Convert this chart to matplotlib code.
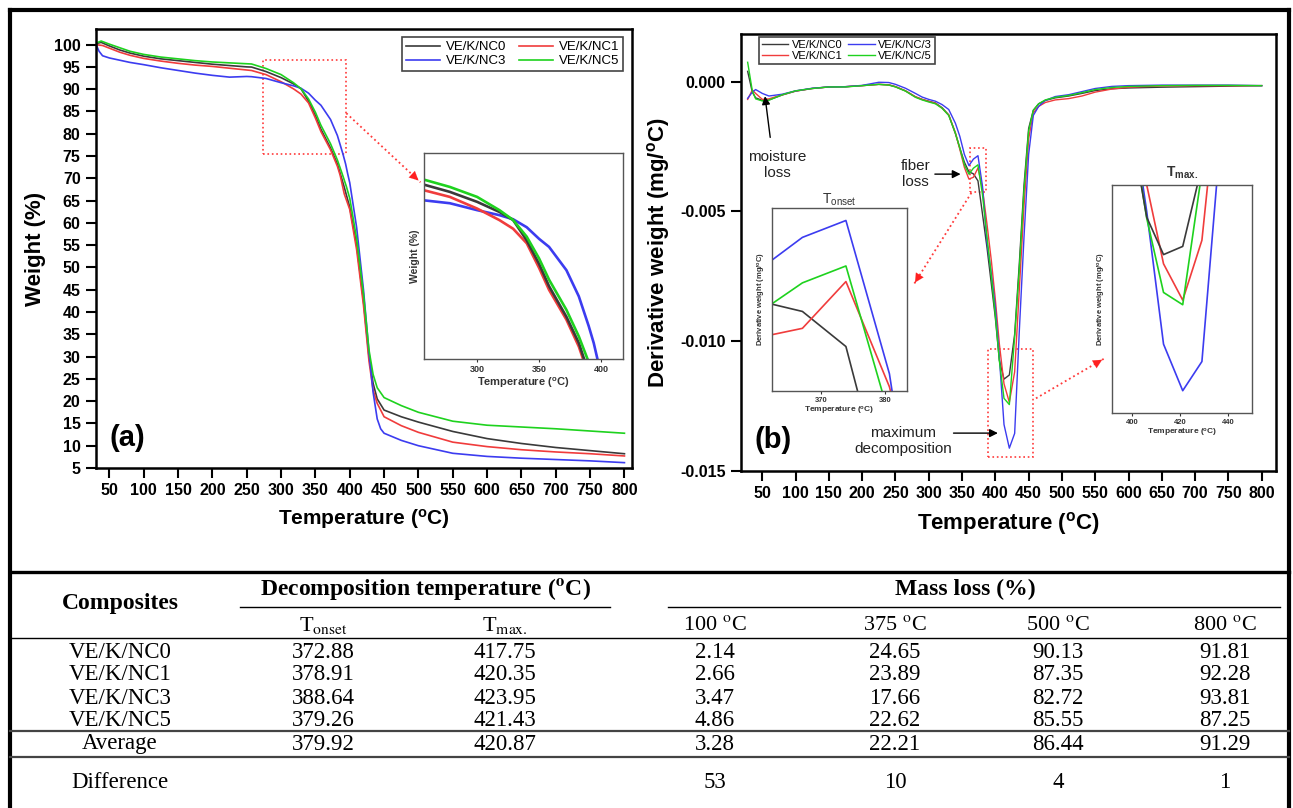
import matplotlib
matplotlib.use("Agg")
import matplotlib.pyplot as plt
from matplotlib.patches import Rectangle
from matplotlib.lines import Line2D

plt.rcParams['font.family'] = ['Liberation Sans', 'DejaVu Sans']
plt.rcParams['mathtext.fontset'] = 'custom'
plt.rcParams['mathtext.rm'] = 'Liberation Sans'
plt.rcParams['mathtext.it'] = 'Liberation Sans:italic'
plt.rcParams['mathtext.bf'] = 'Liberation Sans:bold'
plt.rcParams['axes.unicode_minus'] = False

# ---- TGA curves (weight %, panel a) ----
tga_T_nc0 = [30, 38, 50, 65, 80, 100, 125, 150, 175, 200, 225, 250, 257, 278, 300, 318, 329, 340, 350, 358,
             372, 382, 392, 400, 410, 420, 428, 434, 440, 450, 475, 500, 550, 600, 650, 700, 750, 800]
tga_W_nc0 = [100.2, 100.5, 99.7, 98.8, 98.1, 97.4, 96.8, 96.4, 96.0, 95.6, 95.3, 95.0, 94.96, 93.96, 92.59, 91.2, 90.1, 87.3, 84.05, 81.0,
             76.8, 73.2, 68.0, 63.5, 55.0, 42.5, 30.0, 24.0, 20.5, 18.0, 16.5, 15.3, 13.2, 11.6, 10.5, 9.6, 8.9, 8.2]

tga_T_nc1 = [30, 40, 50, 65, 80, 100, 125, 150, 175, 200, 225, 250, 257, 278, 300, 318, 329, 340, 350, 358,
             372, 382, 386, 392, 400, 410, 420, 428, 434, 440, 450, 475, 500, 550, 600, 650, 700, 750, 800]
tga_W_nc1 = [100.0, 99.8, 99.2, 98.3, 97.6, 96.9, 96.3, 95.8, 95.4, 95.1, 94.7, 94.3, 94.19, 93.27, 91.67, 90.08, 88.9, 86.9, 83.5, 80.5,
             76.4, 72.7, 70.7, 66.5, 63.0, 54.0, 41.5, 29.0, 22.5, 19.5, 16.5, 14.5, 13.0, 10.8, 9.8, 9.1, 8.6, 8.2, 7.7]

tga_T_nc3 = [30, 35, 40, 50, 65, 80, 100, 125, 150, 175, 200, 225, 250, 257, 278, 300, 318, 329, 340, 350, 358,
             372, 382, 390, 394, 397, 400, 410, 420, 428, 434, 440, 445, 450, 475, 500, 550, 600, 650, 700, 750, 800]
tga_W_nc3 = [100.2, 98.5, 97.5, 97.0, 96.5, 96.0, 95.5, 94.8, 94.2, 93.6, 93.1, 92.7, 92.85, 92.8, 92.4, 91.45, 90.76, 90.2, 89.1, 87.5, 86.4,
             83.2, 79.6, 75.5, 73.2, 71.0, 69.0, 59.0, 45.0, 31.0, 22.0, 16.0, 13.8, 12.8, 11.2, 10.0, 8.3, 7.6, 7.2, 6.9, 6.6, 6.2]

tga_T_nc5 = [30, 38, 50, 65, 80, 100, 125, 150, 175, 200, 225, 250, 257, 278, 300, 318, 329, 340, 350, 358,
             372, 382, 389, 395, 400, 410, 420, 428, 434, 440, 450, 475, 500, 550, 600, 650, 700, 750, 800]
tga_W_nc5 = [100.3, 100.8, 100.1, 99.3, 98.5, 97.8, 97.2, 96.8, 96.4, 96.1, 95.9, 95.7, 95.65, 94.64, 93.27, 91.45, 90.1, 87.8, 84.8, 81.9,
             77.75, 74.1, 71.0, 68.2, 65.5, 56.5, 44.0, 31.5, 26.0, 23.0, 20.8, 19.0, 17.5, 15.5, 14.6, 14.2, 13.8, 13.3, 12.8]

# ---- DTG curves (mg/oC, panel b) ----
dtg_T = [28, 35, 40, 50, 60, 80, 100, 125, 150, 175, 200, 225, 240, 250, 265, 280, 290, 300, 310, 320,
         330, 340, 346.6, 353.5, 360.3, 367.1, 373.9, 380.7, 387.5, 394, 400, 406, 413, 421, 429, 436, 443, 450, 457, 465,
         475, 490, 510, 530, 550, 575, 600, 650, 700, 750, 800]
dtg_nc0 = [0.00040, -0.00040, -0.00062, -0.00072, -0.00070, -0.00051, -0.00036, -0.00026, -0.00020, -0.00019,
           -0.00015, -0.00010, -0.00012, -0.00019, -0.00035, -0.00058, -0.00068, -0.00075, -0.00082, -0.00100,
           -0.00128, -0.00200, -0.00255, -0.00310, -0.00347, -0.00355, -0.00382, -0.00510, -0.00640, -0.00780,
           -0.00910, -0.01073, -0.01146, -0.01130, -0.00973, -0.00700, -0.00400, -0.00180, -0.00110, -0.00085,
           -0.00072, -0.00062, -0.00055, -0.00045, -0.00034, -0.00027, -0.00024, -0.00021, -0.00019, -0.00017,
           -0.00015]
dtg_nc1 = [-0.00068, -0.00032, -0.00045, -0.00068, -0.00066, -0.00050, -0.00036, -0.00026, -0.00020, -0.00019,
           -0.00015, -0.00010, -0.00012, -0.00019, -0.00035, -0.00058, -0.00068, -0.00076, -0.00083, -0.00102,
           -0.00128, -0.00196, -0.00260, -0.00330, -0.00375, -0.00368, -0.00332, -0.00413, -0.00550, -0.00690,
           -0.00840, -0.01010, -0.01164, -0.01235, -0.01118, -0.00800, -0.00480, -0.00220, -0.00120, -0.00095,
           -0.00080, -0.00070, -0.00065, -0.00055, -0.00040, -0.00028, -0.00021, -0.00016, -0.00015, -0.00015,
           -0.00015]
dtg_nc3 = [-0.00064, -0.00040, -0.00030, -0.00045, -0.00055, -0.00048, -0.00035, -0.00025, -0.00020, -0.00019,
           -0.00014, -0.00002, -0.00003, -0.00010, -0.00025, -0.00045, -0.00059, -0.00068, -0.00075, -0.00088,
           -0.00107, -0.00160, -0.00210, -0.00280, -0.00323, -0.00298, -0.00285, -0.00403, -0.00620, -0.00740,
           -0.00870, -0.01062, -0.01321, -0.01412, -0.01355, -0.00960, -0.00600, -0.00280, -0.00130, -0.00095,
           -0.00072, -0.00057, -0.00050, -0.00038, -0.00026, -0.00018, -0.00015, -0.00013, -0.00013, -0.00013,
           -0.00015]
dtg_nc5 = [0.00075, -0.00035, -0.00066, -0.00074, -0.00071, -0.00050, -0.00035, -0.00026, -0.00020, -0.00020,
           -0.00015, -0.00010, -0.00013, -0.00020, -0.00036, -0.00060, -0.00070, -0.00078, -0.00085, -0.00102,
           -0.00130, -0.00198, -0.00255, -0.00320, -0.00356, -0.00333, -0.00320, -0.00436, -0.00600, -0.00750,
           -0.00900, -0.01075, -0.01220, -0.01244, -0.00984, -0.00720, -0.00420, -0.00190, -0.00110, -0.00085,
           -0.00070, -0.00060, -0.00053, -0.00042, -0.00030, -0.00022, -0.00018, -0.00015, -0.00014, -0.00014,
           -0.00015]

# ---- summary table ----
composites = ['VE/K/NC0', 'VE/K/NC1', 'VE/K/NC3', 'VE/K/NC5']
t_onset = [372.88, 378.91, 388.64, 379.26]
t_max = [417.75, 420.35, 423.95, 421.43]
loss_100 = [2.14, 2.66, 3.47, 4.86]
loss_375 = [24.65, 23.89, 17.66, 22.62]
loss_500 = [90.13, 87.35, 82.72, 85.55]
loss_800 = [91.81, 92.28, 93.81, 87.25]
average_row = ['379.92', '420.87', '3.28', '22.21', '86.44', '91.29']
difference_row = ['', '', '53', '10', '4', '1']

c_nc0, c_nc1, c_nc3, c_nc5 = '#3a3a3a', '#f03c3c', '#3c3cf0', '#1ed21e'

W_PX, H_PX = 1293, 808
fig = plt.figure(figsize=(W_PX / 100, H_PX / 100), dpi=100)


def fx(px):
    return px / W_PX


def fy(py):
    return 1 - py / H_PX


def px_box(l, t, r, b):
    return [fx(l), fy(b), (r - l) / W_PX, (b - t) / H_PX]


def style_main(ax):
    for s in ax.spines.values():
        s.set_linewidth(1.8)
    ax.tick_params(direction='out', length=7, width=1.5, labelsize=11.5, pad=4)


def style_inset(ax, fs=6):
    for s in ax.spines.values():
        s.set_linewidth(1.0)
        s.set_color('#555555')
    ax.tick_params(direction='out', length=2.5, width=0.8, labelsize=fs, pad=2, colors='#333333')


red_dot = dict(color='#ff3a3a', ls=':', lw=1.3)


def dotted_arrow(ax, start, end):
    ax.plot([start[0], end[0]], [start[1], end[1]], **red_dot, clip_on=False)
    back = (end[0] - 0.12 * (end[0] - start[0]), end[1] - 0.12 * (end[1] - start[1]))
    ax.annotate('', xy=end, xytext=back, annotation_clip=False,
                arrowprops=dict(arrowstyle='-|>', color='#ff2020', lw=0.1, mutation_scale=16))


# ================= panel (a) =================
ax1 = fig.add_axes(px_box(96, 29, 632, 468))
h0, = ax1.plot(tga_T_nc0, tga_W_nc0, color=c_nc0, lw=1.2, label='VE/K/NC0')
h1, = ax1.plot(tga_T_nc1, tga_W_nc1, color=c_nc1, lw=1.2, label='VE/K/NC1')
h3, = ax1.plot(tga_T_nc3, tga_W_nc3, color=c_nc3, lw=1.2, label='VE/K/NC3')
h5, = ax1.plot(tga_T_nc5, tga_W_nc5, color=c_nc5, lw=1.2, label='VE/K/NC5')
ax1.set_xlim(30.5, 811)
ax1.set_ylim(5, 103.5)
xt = list(range(50, 801, 50))
yt = list(range(5, 101, 5))
ax1.set_xticks(xt, labels=[str(v) for v in xt], fontweight='bold')
ax1.set_yticks(yt, labels=[str(v) for v in yt], fontweight='bold')
style_main(ax1)
ax1.set_xlabel(r'Temperature ($\mathbf{^{o}}$C)', fontsize=15, fontweight='bold', labelpad=6)
ax1.set_ylabel('Weight (%)', fontsize=16, fontweight='bold', labelpad=6)
leg = ax1.legend(handles=[h0, h3, h1, h5], ncol=2, loc='upper left',
                 bbox_to_anchor=(fx(402), fy(37)), bbox_transform=fig.transFigure,
                 fontsize=9.5, fancybox=False, edgecolor='#444444', framealpha=1,
                 handlelength=2.6, handletextpad=0.4, columnspacing=1.0,
                 borderpad=0.3, labelspacing=0.15, borderaxespad=0)
leg.get_frame().set_linewidth(1.2)
ax1.text(76, 11.8, '(a)', fontsize=21, fontweight='bold', ha='center', va='center')
ax1.add_patch(Rectangle((273, 75.4), 122, 21.2, fill=False, ec='#ff3a3a', ls=':', lw=1.2))
dotted_arrow(ax1, (395, 84.6), (503, 69.1))

ax1i = fig.add_axes(px_box(424, 153, 623, 359))
for T, Wt, c in [(tga_T_nc3, tga_W_nc3, c_nc3), (tga_T_nc1, tga_W_nc1, c_nc1),
                 (tga_T_nc0, tga_W_nc0, c_nc0), (tga_T_nc5, tga_W_nc5, c_nc5)]:
    ax1i.plot(T, Wt, color=c, lw=1.9)
ax1i.set_xlim(257.2, 417.6)
ax1i.set_ylim(71, 99.3)
ax1i.set_xticks([300, 350, 400], labels=['300', '350', '400'], fontweight='bold')
ax1i.set_yticks([])
style_inset(ax1i, fs=6.5)
ax1i.set_xlabel(r'Temperature ($\mathbf{^{o}}$C)', fontsize=8, fontweight='bold', labelpad=1, color='#333333')
ax1i.set_ylabel('Weight (%)', fontsize=7.5, fontweight='bold', labelpad=3, color='#333333')

# ================= panel (b) =================
ax2 = fig.add_axes(px_box(741, 34, 1276, 471))
g0, = ax2.plot(dtg_T, dtg_nc0, color=c_nc0, lw=1.0, label='VE/K/NC0')
g1, = ax2.plot(dtg_T, dtg_nc1, color=c_nc1, lw=1.0, label='VE/K/NC1')
g3, = ax2.plot(dtg_T, dtg_nc3, color=c_nc3, lw=1.0, label='VE/K/NC/3')
g5, = ax2.plot(dtg_T, dtg_nc5, color=c_nc5, lw=1.0, label='VE/K/NC/5')
ax2.set_xlim(18, 821.5)
ax2.set_ylim(-0.015, 0.00184)
yt2 = [0.0, -0.005, -0.010, -0.015]
ax2.set_xticks(xt, labels=[str(v) for v in xt], fontweight='bold')
ax2.set_yticks(yt2, labels=[f'{v:.3f}' for v in yt2], fontweight='bold')
style_main(ax2)
ax2.set_xlabel(r'Temperature ($\mathbf{^{o}}$C)', fontsize=16, fontweight='bold', labelpad=6)
ax2.set_ylabel(r'Derivative weight (mg/$\mathbf{^{o}}$C)', fontsize=16, fontweight='bold', labelpad=6)
leg2 = ax2.legend(handles=[g0, g1, g3, g5], ncol=2, loc='upper left',
                  bbox_to_anchor=(fx(759), fy(37)), bbox_transform=fig.transFigure,
                  fontsize=8, fancybox=False, edgecolor='#444444', framealpha=1,
                  handlelength=2.4, handletextpad=0.3, columnspacing=0.5,
                  borderpad=0.25, labelspacing=0.1, borderaxespad=0)
leg2.get_frame().set_linewidth(1.2)

ax2.text(66, -0.0138, '(b)', fontsize=21, fontweight='bold', ha='center', va='center')
ax2.text(73, -0.00321, 'moisture\nloss', fontsize=11, ha='center', va='center', linespacing=1.15, color='#222222')
ax2.annotate('', xy=(53.5, -0.00045), xytext=(62.4, -0.00225),
             arrowprops=dict(arrowstyle='-|>', color='black', lw=1.0, mutation_scale=12))
ax2.text(280, -0.00356, 'fiber\nloss', fontsize=11, ha='center', va='center', linespacing=1.15, color='#222222')
ax2.annotate('', xy=(352, -0.00356), xytext=(305, -0.00356),
             arrowprops=dict(arrowstyle='-|>', color='black', lw=1.0, mutation_scale=12))
ax2.text(261, -0.01384, 'maximum\ndecomposition', fontsize=11, ha='center', va='center', linespacing=1.15,
         color='#222222')
ax2.annotate('', xy=(408, -0.01354), xytext=(333, -0.01354),
             arrowprops=dict(arrowstyle='-|>', color='black', lw=1.0, mutation_scale=12))

ax2.add_patch(Rectangle((361.5, -0.00424), 25, 0.00167, fill=False, ec='#ff3a3a', ls=':', lw=1.2))
ax2.add_patch(Rectangle((388.5, -0.01447), 68.1, 0.00416, fill=False, ec='#ff3a3a', ls=':', lw=1.2))
dotted_arrow(ax2, (364, -0.00428), (277, -0.00783))
dotted_arrow(ax2, (461, -0.0122), (564, -0.01066))

# T onset inset
ax_on = fig.add_axes(px_box(771.7, 207.5, 906.7, 390.7))
for y, c in [(dtg_nc0, c_nc0), (dtg_nc1, c_nc1), (dtg_nc5, c_nc5), (dtg_nc3, c_nc3)]:
    ax_on.plot(dtg_T, y, color=c, lw=1.2)
ax_on.set_xlim(362.3, 383.4)
ax_on.set_ylim(-0.00416, -0.00275)
ax_on.set_xticks([370, 380], labels=['370', '380'], fontweight='bold')
ax_on.set_yticks([])
style_inset(ax_on, fs=5.5)
ax_on.set_xlabel(r'Temperature ($\mathbf{^{o}}$C)', fontsize=6, fontweight='bold', labelpad=1, color='#333333')
ax_on.set_ylabel(r'Derivative weight (mg/$\mathbf{^{o}}$C)', fontsize=5.5, fontweight='bold', labelpad=3,
                 color='#333333')
ax_on.set_title(r'T$_{\mathrm{onset}}$', fontsize=10, pad=3, color='#333333')

# T max inset
ax_mx = fig.add_axes(px_box(1111.7, 185, 1252.3, 412.7))
for y, c in [(dtg_nc3, c_nc3), (dtg_nc1, c_nc1), (dtg_nc5, c_nc5), (dtg_nc0, c_nc0)]:
    ax_mx.plot(dtg_T, y, color=c, lw=1.2)
ax_mx.set_xlim(391.4, 450)
ax_mx.set_ylim(-0.01455, -0.0101)
ax_mx.set_xticks([400, 420, 440], labels=['400', '420', '440'], fontweight='bold')
ax_mx.set_yticks([])
style_inset(ax_mx, fs=5.5)
ax_mx.set_xlabel(r'Temperature ($\mathbf{^{o}}$C)', fontsize=6, fontweight='bold', labelpad=1, color='#333333')
ax_mx.set_ylabel(r'Derivative weight (mg/$\mathbf{^{o}}$C)', fontsize=5.5, fontweight='bold', labelpad=3,
                 color='#333333')
ax_mx.set_title(r'$\mathbf{T_{max.}}$', fontsize=10, pad=6, color='#333333')

# ================= outer frame =================
frame_kw = dict(color='black', lw=3.0, solid_capstyle='projecting')
fig.add_artist(Line2D([fx(10), fx(10)], [fy(10), 0], **frame_kw))
fig.add_artist(Line2D([fx(1289), fx(1289)], [fy(10), 0], **frame_kw))
fig.add_artist(Line2D([fx(10), fx(1289)], [fy(10), fy(10)], **frame_kw))

# ================= table =================
serif = ['Liberation Serif', 'DejaVu Serif']


def hline(y, x0=10, x1=1289, lw=1.2, color='black'):
    fig.add_artist(Line2D([fx(x0), fx(x1)], [fy(y), fy(y)], color=color, lw=lw))


def cell(x, y, s, **kw):
    fig.text(fx(x), fy(y), s, ha='center', va='center', family=serif,
             math_fontfamily='stix', **kw)


hline(572, lw=2.4)
hline(607, 240, 610, lw=1.0)
hline(607, 668, 1280, lw=1.0)
hline(638, lw=1.0)
hline(731, lw=1.6, color='#444444')
hline(757, lw=1.6, color='#444444')

col_x = [120, 323, 505, 715, 895, 1058, 1225]
cell(col_x[0], 604, 'Composites', fontsize=17, fontweight='bold')
cell(425, 589, r'Decomposition temperature ($^{\mathbf{o}}$C)', fontsize=17, fontweight='bold')
cell(965, 589, 'Mass loss (%)', fontsize=17, fontweight='bold')
sub_heads = [r'T$_{\mathrm{onset}}$', r'T$_{\mathrm{max.}}$',
             r'100 $^{\mathrm{o}}$C', r'375 $^{\mathrm{o}}$C', r'500 $^{\mathrm{o}}$C', r'800 $^{\mathrm{o}}$C']
for x, s in zip(col_x[1:], sub_heads):
    cell(x, 626, s, fontsize=16)

row_y = [652, 675, 698, 720]
for i, name in enumerate(composites):
    vals = [t_onset[i], t_max[i], loss_100[i], loss_375[i], loss_500[i], loss_800[i]]
    cell(col_x[0], row_y[i], name, fontsize=16.5)
    for x, v in zip(col_x[1:], vals):
        cell(x, row_y[i], f'{v:.2f}', fontsize=16.5)

cell(col_x[0], 744, 'Average', fontsize=16.5)
for x, s in zip(col_x[1:], average_row):
    cell(x, 744, s, fontsize=16.5)
cell(col_x[0], 783, 'Difference', fontsize=16.5)
for x, s in zip(col_x[1:], difference_row):
    cell(x, 783, s, fontsize=16.5)

fig.savefig('out.png', dpi=100)
